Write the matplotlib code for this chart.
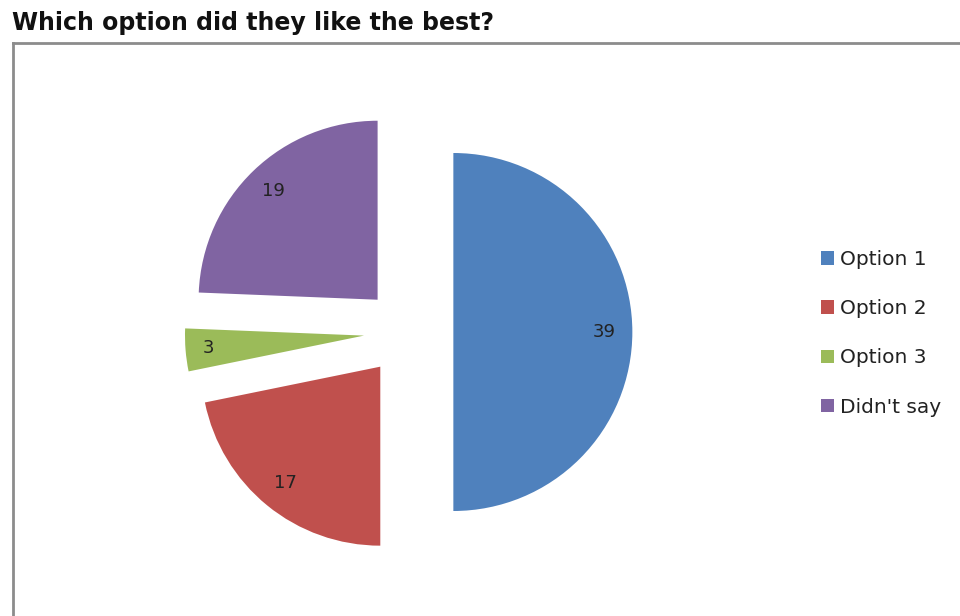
import matplotlib
matplotlib.use("Agg")
import matplotlib.pyplot as plt
from matplotlib.lines import Line2D

# Survey answers
categories = ["Option 1", "Option 2", "Option 3", "Didn't say"]
counts = [39, 17, 3, 19]
colors = ["#4F81BD", "#C0504D", "#9BBB59", "#8064A2"]

W, H, DPI = 960, 616, 100
fig = plt.figure(figsize=(W / DPI, H / DPI), dpi=DPI)
fig.patch.set_facecolor("white")

# Axes spans whole figure; pie of radius 1 drawn at a fixed pixel scale
px_per_unit = 179.0
cx_px, cy_px = 408.6, 332.0
ax = fig.add_axes([0, 0, 1, 1])

wedges, texts, autotexts = ax.pie(
    counts,
    colors=colors,
    startangle=90,
    counterclock=False,
    explode=[0.25] * len(counts),
    radius=1.0,
    autopct=lambda p: f"{p * sum(counts) / 100:.0f}",
    pctdistance=0.84,
    textprops=dict(fontsize=13, color="#222222"),
    wedgeprops=dict(linewidth=0),
)
# small slice label sits a bit further out
x, y = autotexts[2].get_position()
autotexts[2].set_position((x * 1.05 + 0.02, y * 1.05))

ax.set_xlim(-cx_px / px_per_unit, (W - cx_px) / px_per_unit)
ax.set_ylim(-(H - cy_px) / px_per_unit, cy_px / px_per_unit)
ax.set_aspect("auto")
ax.axis("off")

# Chart frame (gray border, open to the right and bottom)
fig.add_artist(Line2D([12.5 / W, 12.5 / W], [0, 1 - 42.5 / H],
                      color="#8c8c8c", lw=2, transform=fig.transFigure))
fig.add_artist(Line2D([12.5 / W, 1.0], [1 - 42.5 / H, 1 - 42.5 / H],
                      color="#8c8c8c", lw=2, transform=fig.transFigure))

fig.text(12 / W, 1 - 23 / H, "Which option did they like the best?",
         fontsize=17, fontweight="bold", color="#111111",
         ha="left", va="center")

leg = ax.legend(
    wedges, categories,
    loc="upper left",
    bbox_to_anchor=(811 / W, 1 - 240 / H),
    bbox_transform=fig.transFigure,
    frameon=False,
    fontsize=14.5,
    handlelength=0.65,
    handleheight=0.65,
    handletextpad=0.3,
    labelspacing=1.5,
    borderpad=0,
)
for t in leg.get_texts():
    t.set_color("#222222")

fig.savefig("out.png", dpi=DPI, facecolor="white")
